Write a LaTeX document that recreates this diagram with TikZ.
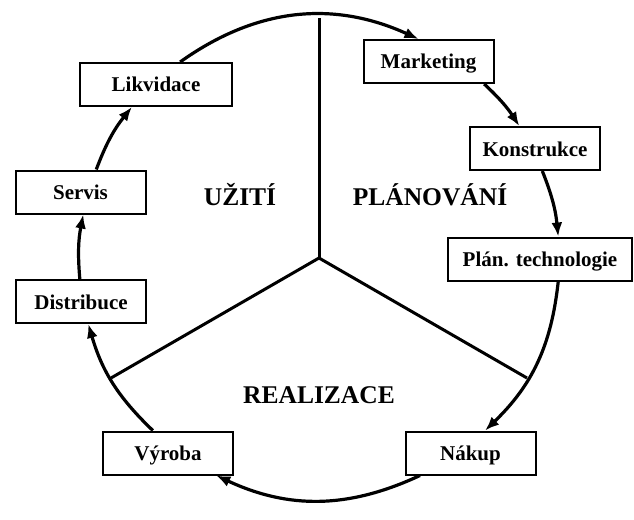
\documentclass[tikz,border=0pt]{standalone}
\usepackage{fontspec}
\setmainfont{Liberation Serif}
\usepackage{tikz}
\usetikzlibrary{arrows.meta}

\begin{document}
\begin{tikzpicture}[x=1pt, y=-1pt,
    activity/.style={draw, rectangle, line width=2pt, minimum width=130pt, minimum height=43pt,
      font=\bfseries\fontsize{21}{25}\selectfont, text height=15pt, text depth=0pt},
    stage/.style={font=\bfseries\fontsize{25.5}{30}\selectfont, anchor=base},
    flow/.style={line width=3.2pt, -{Latex[length=14pt,width=11pt]}, bend left=#1},
    divider/.style={line width=3pt}]
  \useasboundingbox (0,0) rectangle (634,519);

  \node [activity, minimum width=152pt] (likv) at (156,84.5) {Likvidace};
  \node [activity] (mark) at (428.5,61.5) {Marketing};
  \node [activity] (kons) at (535,148.5) {Konstrukce};
  \node [activity, minimum width=184pt] (plan) at (540,259) {Plán. technologie};
  \node [activity] (nakup) at (470.5,453) {Nákup};
  \node [activity] (vyroba) at (168,453) {Výroba};
  \node [activity] (distr) at (81,301.5) {Distribuce};
  \node [activity] (servis) at (80.5,192) {Servis};

  \node [stage] (uziti) at (240,205) {UŽITÍ};
  \node [stage] (planovani) at (430,205) {PLÁNOVÁNÍ};
  \node [stage] (realizace) at (319,403) {REALIZACE};

  \coordinate (hub) at (319,258);
  \coordinate (top) at (319,18);
  \coordinate (left) at (111,378);
  \coordinate (right) at (527,378);

  \draw [divider] (hub) -- (top);
  \draw [divider] (hub) -- (left);
  \draw [divider] (hub) -- (right);

  \draw [flow=30] (likv.43) to (mark.114);
  \draw [flow=7] (mark.338) to (kons.125);
  \draw [flow=8] (kons.288) to (plan.51);
  \draw [flow=20] (plan.309) to (nakup.57);
  \draw [flow=25] (nakup.204) to (vyroba.335);
  \draw [flow=15] (vyroba.124) to (distr.288);
  \draw [flow=8] (distr.93) to (servis.277);
  \draw [flow=9] (servis.55) to (likv.223);
\end{tikzpicture}
\end{document}
